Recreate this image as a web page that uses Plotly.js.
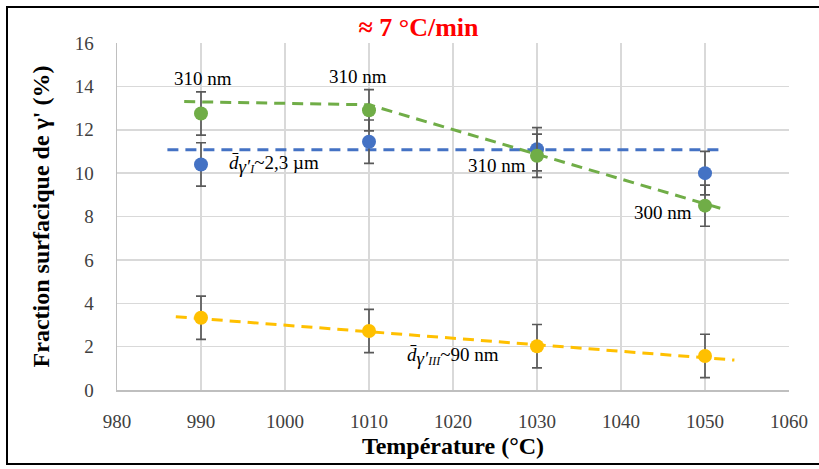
<!DOCTYPE html>
<html><head><meta charset="utf-8">
<script src="https://cdn.plot.ly/plotly-3.0.1.min.js"></script>
<style>
html,body{margin:0;padding:0;background:#fff;overflow:hidden;}
#wrap{position:relative;width:819px;height:469px;overflow:hidden;}
#chart{width:819px;height:469px;}
#frame{position:absolute;left:6px;top:6px;width:900px;height:459px;border:2.5px solid #000;box-sizing:border-box;pointer-events:none;}
</style>
</head><body><div id="wrap"><div id="chart"></div><div id="frame"></div></div>
<script>
const temps = [990, 1010, 1030, 1050];
const blueVals = [10.4, 11.45, 11.1, 10.0];
const blueErr = [1.0, 1.0, 1.0, 1.0];
const greenVals = [12.75, 12.9, 10.8, 8.5];
const greenErr = [1.0, 0.95, 1.0, 0.95];
const yellowVals = [3.33, 2.72, 2.02, 1.57];
const yellowErr = [1.0, 1.0, 1.0, 1.0];
const blueTrendX = [986, 1052];
const blueTrendY = [11.08, 11.08];
const greenTrendX = [988, 1010, 1052.5];
const greenTrendY = [13.3, 13.15, 8.3];
const yellowTrendX = [987, 1053.5];
const yellowTrendY = [3.38, 1.38];
const sizeLabels = ['310 nm', '310 nm', '310 nm', '300 nm'];
const xTicks = [980, 990, 1000, 1010, 1020, 1030, 1040, 1050, 1060];
const yTicks = [0, 2, 4, 6, 8, 10, 12, 14, 16];

const serif = 'Liberation Serif, Times New Roman, serif';
const errStyle = (arr) => ({type: 'data', array: arr, visible: true, color: '#595959', thickness: 1.7, width: 5});
function trend(x, y, c) {
  return {x: x, y: y, mode: 'lines', line: {color: c, width: 3, dash: '11px,7px'}, hoverinfo: 'skip', showlegend: false};
}
function pts(y, e, c) {
  return {x: temps, y: y, mode: 'markers', marker: {color: c, size: 14}, error_y: errStyle(e), showlegend: false};
}
const data = [
  trend(blueTrendX, blueTrendY, '#4472C4'),
  trend(greenTrendX, greenTrendY, '#70AD47'),
  trend(yellowTrendX, yellowTrendY, '#FFC000'),
  pts(blueVals, blueErr, '#4472C4'),
  pts(greenVals, greenErr, '#70AD47'),
  pts(yellowVals, yellowErr, '#FFC000')
];

const annFont = {family: serif, size: 19, color: '#000'};
const subI = '<sub><span style="font-size:19px"><i>γ\u2032</i></span><span style="font-size:12px"><i>I</i></span></sub>';
const subIII = '<sub><span style="font-size:19px"><i>γ\u2032</i></span><span style="font-size:12px"><i>III</i></span></sub>';
const annotations = [
  {x: temps[0], y: greenVals[0] + greenErr[0], text: sizeLabels[0], showarrow: false, yanchor: 'middle', yshift: 13, xshift: 2, font: annFont},
  {x: temps[1], y: greenVals[1] + greenErr[1], text: sizeLabels[1], showarrow: false, yanchor: 'middle', yshift: 13, xshift: -11, font: annFont},
  {x: temps[2], y: greenVals[2], text: sizeLabels[2], showarrow: false, xanchor: 'right', yanchor: 'middle', xshift: -9, yshift: -10, font: annFont},
  {x: temps[3], y: greenVals[3], text: sizeLabels[3], showarrow: false, xanchor: 'right', yanchor: 'middle', xshift: -11, yshift: -7, font: annFont},
  {x: temps[0], y: blueVals[0], text: '<i>d\u0304</i>' + subI + '~2,3 µm', showarrow: false, xanchor: 'left', yanchor: 'middle', xshift: 26, yshift: 0, font: annFont},
  {x: temps[2], y: yellowVals[2], text: '<i>d\u0304</i>' + subIII + '~90 nm', showarrow: false, xanchor: 'right', yanchor: 'middle', xshift: -36, yshift: -10, font: annFont}
];

const layout = {
  width: 819, height: 469,
  margin: {l: 117, r: 30, t: 43, b: 79},
  paper_bgcolor: '#fff', plot_bgcolor: '#fff',
  font: {family: serif},
  title: {text: '<b>≈ 7 °C/min</b>', font: {family: serif, size: 26, color: '#FF0000'}, x: 0.511, xanchor: 'center', y: 0.942, yanchor: 'middle'},
  xaxis: {
    range: [980, 1060], tickvals: xTicks, ticktext: xTicks.map(String),
    showgrid: true, gridcolor: '#d9d9d9', gridwidth: 1.5, zeroline: false,
    showline: true, linecolor: '#bfbfbf', linewidth: 1.5, ticks: '',
    ticklabelstandoff: 14,
    tickfont: {family: serif, size: 19, color: '#404040'},
    title: {text: '<b>Température (°C)</b>', font: {family: serif, size: 24, color: '#000'}, standoff: 6}
  },
  yaxis: {
    range: [0, 16], tickvals: yTicks, ticktext: yTicks.map(String),
    showgrid: true, gridcolor: '#d9d9d9', gridwidth: 1.5, zeroline: false,
    showline: true, linecolor: '#bfbfbf', linewidth: 1.5, ticks: '',
    ticklabelstandoff: 18,
    tickfont: {family: serif, size: 19, color: '#404040'},
    title: {text: "<b>Fraction surfacique de γ' (%)</b>", font: {family: serif, size: 24, color: '#000'}, standoff: 18}
  },
  annotations: annotations
};
Plotly.newPlot('chart', data, layout, {displayModeBar: false, staticPlot: true});
</script></body></html>
